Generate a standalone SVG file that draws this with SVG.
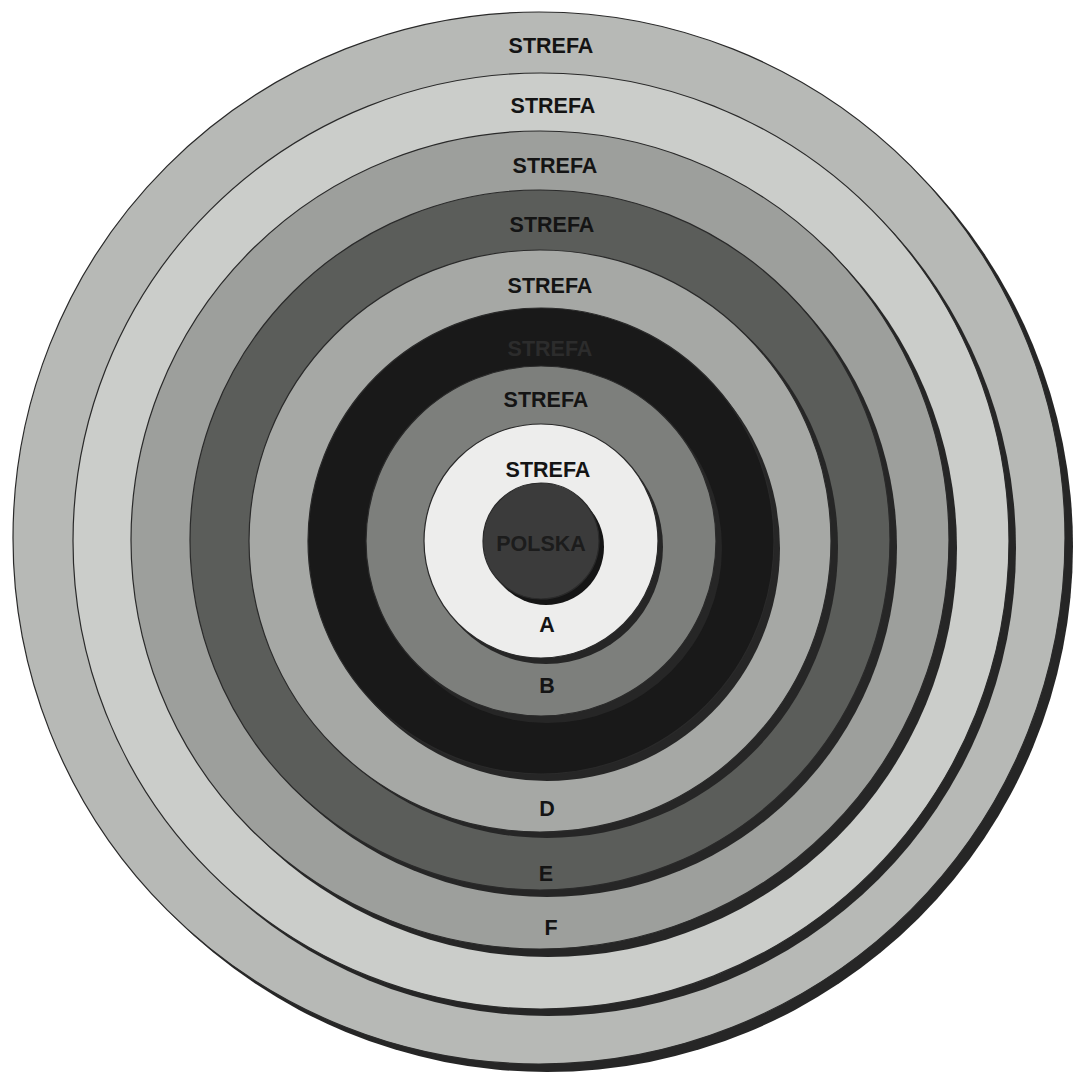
<svg xmlns="http://www.w3.org/2000/svg" width="1074" height="1076" viewBox="0 0 1074 1076">
<style>
.sh{fill:#262626}
.c{stroke:#2a2a2a;stroke-width:1.2}
.t{font-family:"Liberation Sans",Arial,sans-serif;font-weight:bold;font-size:21.5px;fill:#141414;text-anchor:middle}
</style>
<rect width="1074" height="1076" fill="#ffffff"/>
<g id="ring1">
<circle class="sh" cx="547" cy="546" r="526"/>
<circle class="c" cx="539" cy="538" r="526" fill="#b7b9b6"/>
<text class="t" x="551" y="53">STREFA</text>
</g>
<g id="ring2">
<circle class="sh" cx="548" cy="548" r="468" fill="#555"/>
<circle class="c" cx="541" cy="541" r="468" fill="#cbcdca"/>
<text class="t" x="553" y="113">STREFA</text>
</g>
<g id="ring3">
<circle class="sh" cx="548" cy="548" r="409"/>
<circle class="c" cx="540" cy="540" r="409" fill="#9d9f9c"/>
<text class="t" x="555" y="173">STREFA</text>
<text class="t" x="551" y="935">F</text>
</g>
<g id="ring4">
<circle class="sh" cx="547" cy="547" r="350"/>
<circle class="c" cx="540" cy="540" r="350" fill="#5b5d5a"/>
<text class="t" x="552" y="232">STREFA</text>
<text class="t" x="546" y="881">E</text>
</g>
<g id="ring5">
<circle class="sh" cx="547" cy="547" r="291"/>
<circle class="c" cx="540" cy="541" r="291" fill="#a6a8a5"/>
<text class="t" x="550" y="293">STREFA</text>
<text class="t" x="547" y="816">D</text>
</g>
<g id="ring6">
<circle class="sh" cx="547" cy="548" r="233"/>
<circle class="c" cx="541" cy="541" r="233" fill="#191919"/>
<text class="t" x="550" y="356" style="fill:#2c2c2c">STREFA</text>
</g>
<g id="ring7">
<circle class="sh" cx="547" cy="548" r="175"/>
<circle class="c" cx="541" cy="541" r="175" fill="#7d7f7c"/>
<text class="t" x="546" y="407">STREFA</text>
<text class="t" x="547" y="693">B</text>
</g>
<g id="ring8">
<circle class="sh" cx="546" cy="547" r="117"/>
<circle class="c" cx="541" cy="541" r="117" fill="#ededec"/>
<text class="t" x="548" y="477">STREFA</text>
<text class="t" x="547" y="632">A</text>
</g>
<g id="polska">
<circle cx="546" cy="547" r="58" fill="#151515"/>
<circle class="c" cx="541" cy="541" r="58" fill="#3b3b3b"/>
<text class="t" x="541" y="551" style="fill:#1c1c1c">POLSKA</text>
</g>
<g id="connectors"/>
</svg>
